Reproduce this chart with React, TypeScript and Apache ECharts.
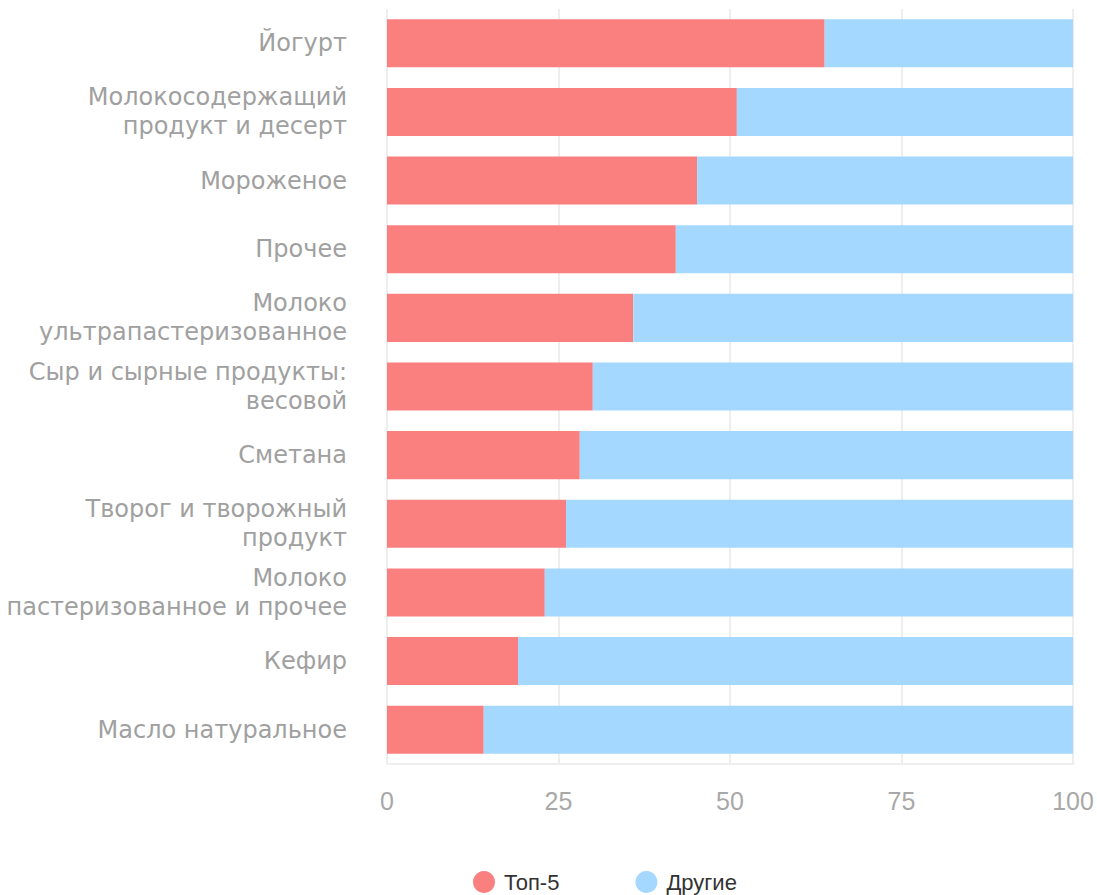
import React, { useEffect, useRef } from "react";
import * as echarts from "echarts";

const categories = [
  "Йогурт",
  "Молокосодержащий\nпродукт и десерт",
  "Мороженое",
  "Прочее",
  "Молоко\nультрапастеризованное",
  "Сыр и сырные продукты:\nвесовой",
  "Сметана",
  "Творог и творожный\nпродукт",
  "Молоко\nпастеризованное и прочее",
  "Кефир",
  "Масло натуральное",
];
const top5 = [63.8, 51.0, 45.2, 42.1, 35.9, 30.0, 28.1, 26.1, 23.0, 19.1, 14.1];
const others = [36.2, 49.0, 54.8, 57.9, 64.1, 70.0, 71.9, 73.9, 77.0, 80.9, 85.9];
const xTicks = [0, 25, 50, 75, 100];
const seriesNames = ["Топ-5", "Другие"];

export default function App() {
  const ref = useRef<HTMLDivElement>(null);
  useEffect(() => {
    const chart = echarts.init(ref.current!, null, { renderer: "svg" });
    const font = "Helvetica, 'Liberation Sans', Arial, sans-serif";
    chart.setOption({
      animation: false,
      textStyle: { fontFamily: font },
      grid: { left: 387, right: 24, top: 9, bottom: 131, containLabel: false },
      legend: {
        top: 866,
        left: 468,
        icon: "circle",
        itemWidth: 22,
        itemHeight: 22,
        itemGap: 76,
        textStyle: { fontSize: 22, color: "#333", fontFamily: font, padding: [0, 0, 0, 4] },
        data: seriesNames,
      },
      xAxis: {
        type: "value",
        min: xTicks[0],
        max: xTicks[xTicks.length - 1],
        interval: 25,
        axisLine: { show: true, lineStyle: { color: "#eeeeee", width: 2 } },
        axisTick: { show: false },
        splitLine: { show: true, lineStyle: { color: "#eeeeee", width: 2 } },
        axisLabel: { fontSize: 25, color: "#a8a8a8", margin: 24, fontFamily: font },
      },
      yAxis: {
        type: "category",
        inverse: true,
        data: categories,
        axisLine: { show: false },
        axisTick: { show: false },
        axisLabel: {
          fontSize: 24,
          lineHeight: 29,
          color: "#a0a0a0",
          margin: 40,
          fontFamily: "'DejaVu Sans', sans-serif",
        },
      },
      series: [
        {
          name: seriesNames[0],
          type: "bar",
          stack: "total",
          data: top5,
          barWidth: "70%",
          itemStyle: { color: "#fa8080" },
        },
        {
          name: seriesNames[1],
          type: "bar",
          stack: "total",
          data: others,
          barWidth: "70%",
          itemStyle: { color: "#a5d8ff" },
        },
      ],
    });
    return () => chart.dispose();
  }, []);
  return <div ref={ref} style={{ width: 1097, height: 895, position: "absolute", left: 0, top: 0 }} />;
}
